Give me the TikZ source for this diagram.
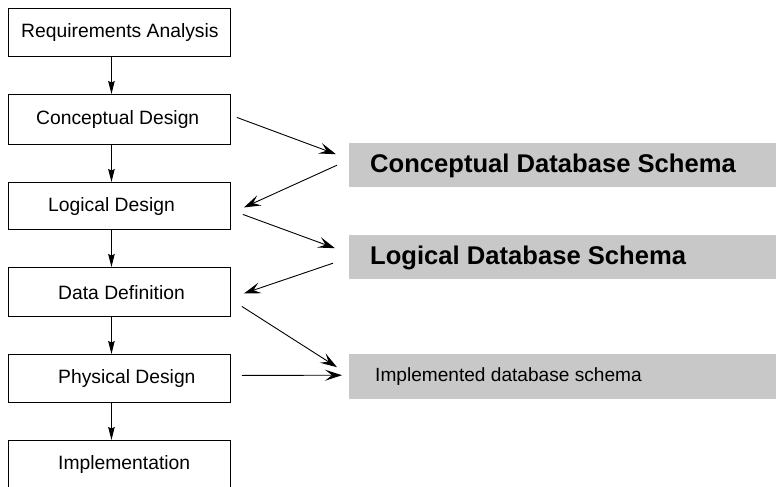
\documentclass[tikz,border=0pt]{standalone}
\usepackage{fontspec}
\setmainfont{Liberation Sans}
\usetikzlibrary{arrows.meta}
\definecolor{schemagray}{RGB}{200,200,200}
\begin{document}
\begin{tikzpicture}[x=1pt,y=-1pt,
  phase/.style={draw=black,line width=0.9pt,rectangle,minimum width=222pt,inner sep=0pt,anchor=north west},
  schema/.style={fill=schemagray,rectangle,minimum width=431pt,inner sep=0pt,anchor=north west},
  phasetext/.style={anchor=west,inner sep=0pt,font=\fontsize{19.3}{22}\selectfont},
  bigtext/.style={anchor=west,inner sep=0pt,font=\fontsize{25.6}{28}\selectfont\bfseries},
  smalltext/.style={anchor=west,inner sep=0pt,font=\fontsize{19.1}{22}\selectfont},
  down/.style={line width=0.9pt,-{Stealth[length=13pt,width=6.5pt,inset=1.5pt]}},
  flow/.style={line width=0.9pt,-{Stealth[length=17pt,width=11pt,inset=7pt,line width=1.1pt]}}]
\useasboundingbox (0,0) rectangle (776,487);

% design phases
\node[phase,minimum height=48pt] (req)  at (8,8)   {};
\node[phase,minimum height=50pt] (conc) at (8,94)  {};
\node[phase,minimum height=47pt] (logi) at (8,182) {};
\node[phase,minimum height=49pt] (data) at (8,267) {};
\node[phase,minimum height=48pt] (phys) at (8,354) {};
\node[phase,minimum height=48pt] (impl) at (8,440) {};

\node[phasetext] (treq)  at (21,33)  {Requirements Analysis};
\node[phasetext] (tconc) at (36,120) {Conceptual Design};
\node[phasetext] (tlogi) at (48,206.5) {Logical Design};
\node[phasetext] (tdata) at (58,292.5) {Data Definition};
\node[phasetext] (tphys) at (58,379) {Physical Design};
\node[phasetext] (timpl) at (58,465) {Implementation};

% resulting schemas
\node[schema,minimum height=44pt] (cds) at (349,143) {};
\node[schema,minimum height=44pt] (lds) at (349,235) {};
\node[schema,minimum height=45pt] (ids) at (349,354) {};

\node[bigtext]   (tcds) at (370,166) {Conceptual Database Schema};
\node[bigtext]   (tlds) at (370,258) {Logical Database Schema};
\node[smalltext] (tids) at (375,377) {Implemented database schema};

% phase sequence
\draw[down] ([xshift=-8pt]req.south)  -- ([xshift=-8pt]conc.north);
\draw[down] ([xshift=-8pt]conc.south) -- ([xshift=-8pt]logi.north);
\draw[down] ([xshift=-8pt]logi.south) -- ([xshift=-8pt]data.north);
\draw[down] ([xshift=-8pt]data.south) -- ([xshift=-8pt]phys.north);
\draw[down] ([xshift=-8pt]phys.south) -- ([xshift=-8pt]impl.north);

% schema flow
\draw[flow] ([shift={(6,-2)}]conc.east)  -- ([shift={(-13,-11)}]cds.west);
\draw[flow] ([shift={(-12,0)}]cds.west)  -- ([shift={(13,1.5)}]logi.east);
\draw[flow] ([shift={(12,8.5)}]logi.east) -- ([shift={(-14,-9)}]lds.west);
\draw[flow] ([shift={(-16,6)}]lds.west)  -- ([shift={(13,1.5)}]data.east);
\draw[flow] ([shift={(11,14.5)}]data.east) -- ([shift={(-12,-9.5)}]ids.west);
\draw[flow] ([shift={(11,-3)}]phys.east) -- ([shift={(-7,-1.5)}]ids.west);
\end{tikzpicture}
\end{document}
